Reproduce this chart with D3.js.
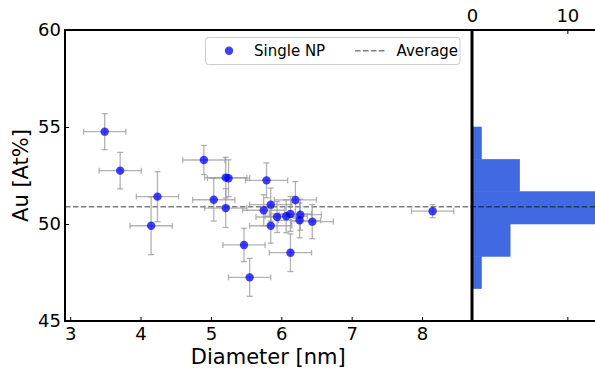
<!DOCTYPE html>
<html><head><meta charset="utf-8">
<script src="https://cdn.jsdelivr.net/npm/d3@7"></script>
<style>body{margin:0;background:#fff} text{font-family:"DejaVu Sans",sans-serif;fill:#000}</style>
</head><body><svg id="c" width="595" height="368"></svg>
<script>
const diameter    = [3.49, 3.71, 4.24, 4.15, 4.90, 5.21, 5.25, 5.04, 5.21, 5.47, 5.55, 5.79, 5.85, 5.75, 6.20, 5.94, 6.07, 6.13, 6.27, 6.26, 6.44, 5.85, 6.13, 8.15];
const au          = [54.76, 52.75, 51.41, 49.91, 53.30, 52.39, 52.36, 51.25, 50.82, 48.92, 47.25, 52.25, 51.00, 50.71, 51.24, 50.36, 50.40, 50.52, 50.48, 50.19, 50.12, 49.91, 48.52, 50.66];
const diameterErr = [0.30, 0.30, 0.30, 0.30, 0.30, 0.30, 0.30, 0.30, 0.30, 0.30, 0.30, 0.30, 0.30, 0.30, 0.30, 0.30, 0.30, 0.30, 0.30, 0.30, 0.30, 0.30, 0.30, 0.30];
const auErr       = [0.93, 0.94, 1.29, 1.49, 0.75, 1.05, 0.95, 1.10, 1.00, 0.86, 0.98, 0.90, 0.85, 0.80, 0.95, 0.80, 0.85, 0.90, 0.80, 0.90, 0.88, 0.90, 0.97, 0.34];
const xTicks = [3, 4, 5, 6, 7, 8];
const yTicks = [45, 50, 55, 60];
const histTicks = [0, 10];
const binEdges = [46.667, 48.333, 50.0, 51.667, 53.333, 55.0];
const legendLabels = ["Single NP", "Average"];

const svg = d3.select("#c");
svg.append("rect").attr("width", 595).attr("height", 368).attr("fill", "#fff");

const M = {l: 65, r: 471.5, t: 30, b: 321};
const H = {l: 472.5, r: 600};

const x = d3.scaleLinear().domain([2.926, 8.703]).range([M.l, M.r]);
const y = d3.scaleLinear().domain([45, 60]).range([M.b, M.t]);
const hx = d3.scaleLinear().domain([0, 12.9]).range([472, 595]);

const data = diameter.map((d, i) => ({d, a: au[i], de: diameterErr[i], ae: auErr[i]}));
const avg = d3.mean(au);

// histogram
const bins = d3.bin().domain([binEdges[0], binEdges[binEdges.length - 1]])
  .thresholds(binEdges.slice(1, -1))(au);
svg.append("g").selectAll("rect").data(bins).join("rect")
  .attr("x", hx(0))
  .attr("y", b => y(b.x1))
  .attr("width", b => hx(b.length) - hx(0))
  .attr("height", b => y(b.x0) - y(b.x1))
  .attr("fill", "royalblue")
  .attr("stroke", "royalblue").attr("stroke-width", 0.6);

// average line
svg.append("line")
  .attr("x1", M.l).attr("x2", 595)
  .attr("y1", y(avg)).attr("y2", y(avg))
  .attr("stroke", "#000").attr("stroke-opacity", 0.5)
  .attr("stroke-width", 1.5).attr("stroke-dasharray", "5.55,2.4");

// error bars
const eb = svg.append("g").attr("stroke", "#999").attr("stroke-opacity", 0.75).attr("stroke-width", 1.3).attr("fill", "none");
const cap = 3;
data.forEach(p => {
  const g = eb.append("g");
  const cx = x(p.d), cy = y(p.a);
  const x0 = x(p.d - p.de), x1 = x(p.d + p.de);
  const y0 = y(p.a - p.ae), y1 = y(p.a + p.ae);
  g.append("line").attr("x1", x0).attr("x2", x1).attr("y1", cy).attr("y2", cy);
  g.append("line").attr("x1", cx).attr("x2", cx).attr("y1", y0).attr("y2", y1);
  g.append("line").attr("x1", x0).attr("x2", x0).attr("y1", cy - cap).attr("y2", cy + cap);
  g.append("line").attr("x1", x1).attr("x2", x1).attr("y1", cy - cap).attr("y2", cy + cap);
  g.append("line").attr("x1", cx - cap).attr("x2", cx + cap).attr("y1", y0).attr("y2", y0);
  g.append("line").attr("x1", cx - cap).attr("x2", cx + cap).attr("y1", y1).attr("y2", y1);
});

// points
svg.append("g").selectAll("circle").data(data).join("circle")
  .attr("cx", p => x(p.d)).attr("cy", p => y(p.a)).attr("r", 4.2)
  .attr("fill", "blue").attr("fill-opacity", 0.75);

// axes
const fs = 18;
const ax = svg.append("g").attr("transform", `translate(0,${M.b})`)
  .call(d3.axisBottom(x).tickValues(xTicks).tickSize(-4).tickPadding(6).tickFormat(d3.format("d")));
const ay = svg.append("g").attr("transform", `translate(${M.l},0)`)
  .call(d3.axisLeft(y).tickValues(yTicks).tickSize(-4).tickPadding(4).tickFormat(d3.format("d")));
const ht = svg.append("g").attr("transform", `translate(0,${M.t})`)
  .call(d3.axisTop(hx).tickValues(histTicks).tickSize(-4).tickPadding(8).tickFormat(d3.format("d")));
const hb = svg.append("g").attr("transform", `translate(0,${M.b})`)
  .call(d3.axisBottom(hx).tickValues(histTicks).tickSize(-4).tickFormat(""));
[ax, ay, ht, hb].forEach(g => {
  g.select(".domain").remove();
  g.selectAll("text").attr("font-size", fs).attr("font-family", "DejaVu Sans").attr("fill", "#000");
  g.selectAll("line").attr("stroke", "#000").attr("stroke-width", 1);
  g.attr("font-family", null).attr("font-size", null);
});

// spines
svg.append("rect").attr("x", M.l).attr("y", M.t).attr("width", M.r - M.l).attr("height", M.b - M.t)
  .attr("fill", "none").attr("stroke", "#000").attr("stroke-width", 2);
svg.append("path").attr("d", `M${H.l},${M.t}H${H.r}M${H.l},${M.b}H${H.r}M${H.l},${M.t - 1}V${M.b + 1}`)
  .attr("fill", "none").attr("stroke", "#000").attr("stroke-width", 2);

// axis labels
svg.append("text").attr("x", (M.l + M.r) / 2).attr("y", 363.5).attr("text-anchor", "middle")
  .attr("font-size", 21).text("Diameter [nm]");
svg.append("text").attr("transform", `translate(28,${(M.t + M.b) / 2}) rotate(-90)`)
  .attr("text-anchor", "middle").attr("font-size", 21).text("Au [At%]");

// legend
const lg = svg.append("g");
lg.append("rect").attr("x", 205.5).attr("y", 37.5).attr("width", 254.5).attr("height", 27).attr("rx", 3)
  .attr("fill", "#fff").attr("fill-opacity", 0.8).attr("stroke", "#ccc").attr("stroke-width", 1);
lg.append("circle").attr("cx", 229).attr("cy", 50.7).attr("r", 4.2).attr("fill", "blue").attr("fill-opacity", 0.75);
lg.append("text").attr("x", 254).attr("y", 56).attr("font-size", 15).text(legendLabels[0]);
lg.append("line").attr("x1", 355).attr("x2", 385).attr("y1", 50.7).attr("y2", 50.7)
  .attr("stroke", "#000").attr("stroke-opacity", 0.5).attr("stroke-width", 1.5).attr("stroke-dasharray", "5.55,2.4");
lg.append("text").attr("x", 396.5).attr("y", 56).attr("font-size", 15).text(legendLabels[1]);
</script></body></html>
